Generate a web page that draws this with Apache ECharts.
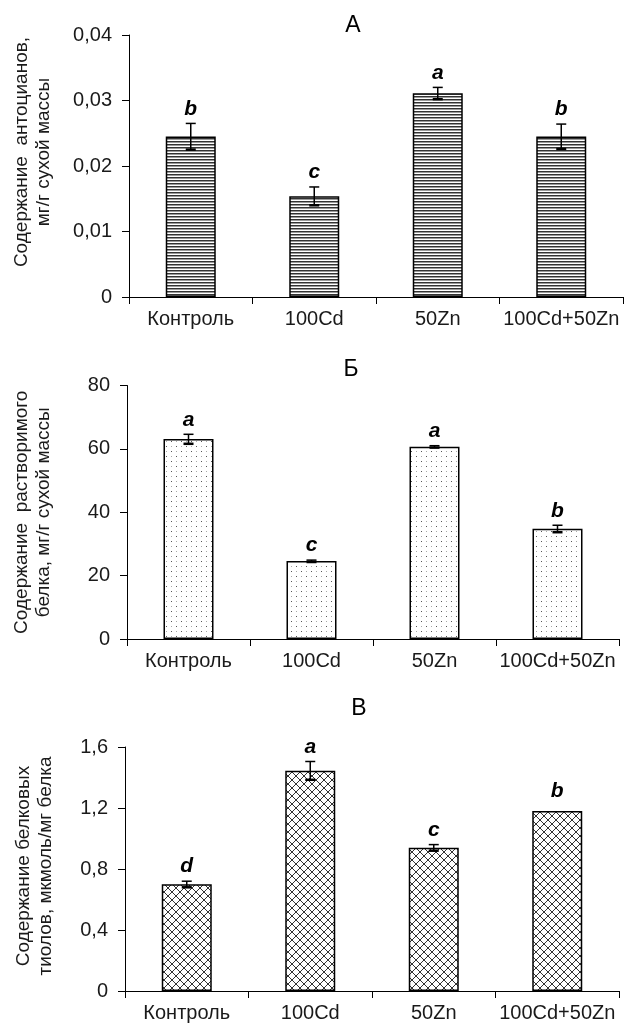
<!DOCTYPE html>
<html>
<head>
<meta charset="utf-8">
<script src="https://cdn.jsdelivr.net/npm/echarts@6/dist/echarts.min.js"></script>
<style>
html,body{margin:0;padding:0;background:#fff;}
#c{width:624px;height:1026px;}
</style>
</head>
<body>
<div id="c"></div>
<script>
// ---- data ----
const categories = ['Контроль', '100Cd', '50Zn', '100Cd+50Zn'];

const titles = ['А', 'Б', 'В'];

const valuesA = [0.0245, 0.0154, 0.0311, 0.0245];
const errorsA = [0.0020, 0.0014, 0.0009, 0.0019];
const lettersA = ['b', 'c', 'a', 'b'];
const ticksA = ['0', '0,01', '0,02', '0,03', '0,04'];
const nameA = 'Содержание  антоцианов,\nмг/г сухой массы';

const valuesB = [63.1, 24.6, 60.7, 34.8];
const errorsB = [1.5, 0.3, 0.3, 1.1];
const lettersB = ['a', 'c', 'a', 'b'];
const ticksB = ['0', '20', '40', '60', '80'];
const nameB = 'Содержание  растворимого\nбелка, мг/г сухой массы';

const valuesC = [0.70, 1.445, 0.94, 1.18];
const errorsC = [0.02, 0.06, 0.02, 0];
const lettersC = ['d', 'a', 'c', 'b'];
const ticksC = ['0', '0,4', '0,8', '1,2', '1,6'];
const nameC = 'Содержание белковых\nтиолов, мкмоль/мг белка';

// ---- patterns ----
function makeCanvas(w, h, draw) {
  const cv = document.createElement('canvas');
  cv.width = w; cv.height = h;
  const ctx = cv.getContext('2d');
  ctx.fillStyle = '#fff';
  ctx.fillRect(0, 0, w, h);
  draw(ctx);
  return cv;
}
const stripes = makeCanvas(4, 3, ctx => {
  ctx.fillStyle = '#333';
  ctx.fillRect(0, 0, 4, 1);
  ctx.fillStyle = '#9a9a9a';
  ctx.fillRect(0, 1, 4, 1);
});
const dots = makeCanvas(10, 10, ctx => {
  ctx.fillStyle = '#555';
  ctx.fillRect(1, 1, 1, 1);
  ctx.fillRect(6, 6, 1, 1);
  ctx.fillStyle = '#aaa';
  ctx.fillRect(6, 1, 1, 1);
  ctx.fillRect(1, 6, 1, 1);
});
const cross = makeCanvas(8, 8, ctx => {
  ctx.strokeStyle = '#333';
  ctx.lineWidth = 1;
  ctx.beginPath();
  ctx.moveTo(-1, -1); ctx.lineTo(9, 9);
  ctx.moveTo(9, -1); ctx.lineTo(-1, 9);
  ctx.stroke();
});

const FONT = "'Liberation Sans', Arial, sans-serif";
const TXT = '#1a1a1a';

const grids = [
  { left: 129, top: 35, width: 494, height: 262 },
  { left: 127, top: 385.5, width: 492, height: 253.5 },
  { left: 125, top: 747, width: 494, height: 244 }
];

const panels = [
  { values: valuesA, errors: errorsA, letters: lettersA, ticks: ticksA, interval: 0.01, name: nameA, pattern: stripes, namePad: [0, 0, 0, 28], nameGap: 74 },
  { values: valuesB, errors: errorsB, letters: lettersB, ticks: ticksB, interval: 20, name: nameB, pattern: dots, namePad: [0, 0, 0, 0], nameGap: 72 },
  { values: valuesC, errors: errorsC, letters: lettersC, ticks: ticksC, interval: 0.4, name: nameC, pattern: cross, namePad: [0, 0, 0, 6], nameGap: 68 }
];

const xAxes = [], yAxes = [], series = [];
panels.forEach((p, k) => {
  xAxes.push({
    type: 'category', gridIndex: k, data: categories,
    axisLine: { lineStyle: { color: '#000', width: 1 } },
    axisTick: { show: true, length: 7, interval: 0, lineStyle: { color: '#000' } },
    axisLabel: { interval: 0, margin: 12, fontSize: 20, color: TXT, fontFamily: FONT }
  });
  yAxes.push({
    type: 'value', gridIndex: k, min: 0, max: p.interval * (p.ticks.length - 1), interval: p.interval,
    splitLine: { show: false },
    axisLine: { show: true, lineStyle: { color: '#000', width: 1 } },
    axisTick: { show: true, length: 7, lineStyle: { color: '#000' } },
    axisLabel: {
      margin: 17, fontSize: 20, color: TXT, fontFamily: FONT,
      formatter: v => p.ticks[Math.round(v / p.interval)]
    },
    name: p.name, nameLocation: 'middle', nameRotate: 90, nameGap: p.nameGap,
    nameTextStyle: { fontSize: 19, lineHeight: 22, color: TXT, fontFamily: FONT, padding: p.namePad, align: 'center' }
  });
  series.push({
    type: 'bar', xAxisIndex: k, yAxisIndex: k, data: p.values, barWidth: 50,
    itemStyle: { color: { image: p.pattern, repeat: 'repeat' }, borderColor: '#000', borderWidth: 1.5 },
    silent: true
  });
  series.push({
    type: 'custom', xAxisIndex: k, yAxisIndex: k, silent: true, z: 5,
    data: p.values.map((v, i) => [i, v, p.errors[i]]),
    renderItem: (params, api) => {
      const i = api.value(0), v = api.value(1), e = api.value(2);
      const top = api.coord([i, v + e]);
      const bot = api.coord([i, v - e]);
      const cw = 5;
      const st = { stroke: '#000', lineWidth: 1.5 };
      const children = [];
      if (e > 0) {
        children.push({ type: 'line', shape: { x1: top[0], y1: top[1], x2: bot[0], y2: bot[1] }, style: st });
        children.push({ type: 'line', shape: { x1: top[0] - cw, y1: top[1], x2: top[0] + cw, y2: top[1] }, style: st });
        children.push({ type: 'line', shape: { x1: bot[0] - cw, y1: bot[1], x2: bot[0] + cw, y2: bot[1] }, style: { stroke: '#000', lineWidth: 2.5 } });
      }
      children.push({
        type: 'text',
        style: {
          x: top[0], y: top[1] - (e > 0 ? 4 : 9), text: p.letters[params.dataIndex],
          fill: '#000', font: "italic bold 21px " + FONT, align: 'center', verticalAlign: 'bottom'
        }
      });
      return { type: 'group', children };
    }
  });
});

const titleLeft = [353, 351, 359];
const titleTop = [14, 358, 697];

const chart = echarts.init(document.getElementById('c'), null, { renderer: 'canvas' });
chart.setOption({
  animation: false,
  backgroundColor: '#fff',
  title: titles.map((t, k) => ({
    text: t, left: titleLeft[k], top: titleTop[k], textAlign: 'center', padding: 0,
    textStyle: { fontSize: 23, fontWeight: 'normal', color: '#000', fontFamily: FONT }
  })),
  grid: grids,
  xAxis: xAxes,
  yAxis: yAxes,
  series: series
});
</script>
</body>
</html>
